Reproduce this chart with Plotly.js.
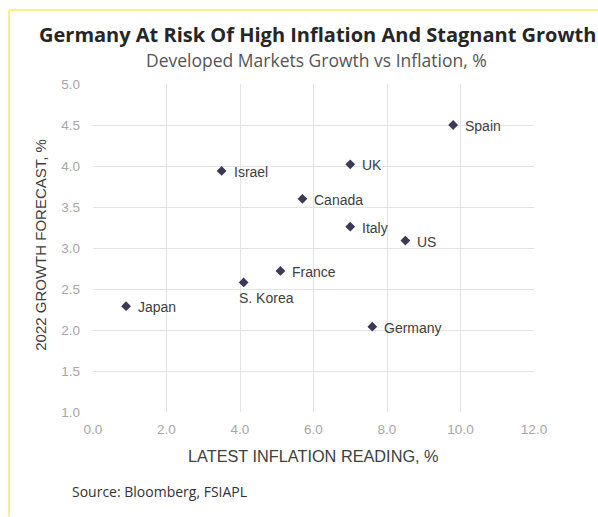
<!DOCTYPE html>
<html>
<head>
<meta charset="utf-8">
<script src="https://cdn.plot.ly/plotly-3.0.1.min.js"></script>
<style>
html,body{margin:0;padding:0;background:#fff;}
#chart{width:598px;height:517px;}
</style>
</head>
<body>
<div id="chart"></div>
<script>
var countries = ["Spain","UK","Israel","Canada","Italy","US","France","S. Korea","Japan","Germany"];
var inflation = [9.8, 7.0, 3.5, 5.7, 7.0, 8.5, 5.1, 4.1, 0.9, 7.6];
var growth    = [4.5, 4.02, 3.94, 3.6, 3.26, 3.09, 2.72, 2.58, 2.29, 2.04];
var xTicks = [0,2,4,6,8,10,12];
var yTicks = [1.0,1.5,2.0,2.5,3.0,3.5,4.0,4.5,5.0];

var arial = "Liberation Sans, Arial, sans-serif";
var calibri = "Open Sans, Lato, sans-serif";
var labelFont = {family:arial, size:14, color:"#404040"};

// plot area in pixels: left 93, right 534, top 84, bottom 412.5
var L = 93, R = 534, T = 84, B = 412.5;
function px(xp){ return (xp - L) / (R - L); }
function py(yp){ return (B - yp) / (B - T); }

var annotations = countries.map(function(c,i){
  var below = (c === "S. Korea");
  return {
    x: inflation[i], y: growth[i], xref:"x", yref:"y",
    text: c, showarrow:false, xanchor:"left", yanchor:"middle",
    xshift: below ? -7 : 10, yshift: below ? -16 : -1,
    font: labelFont
  };
});
annotations.push({
  text:"<b>Germany At Risk Of High Inflation And Stagnant Growth</b>",
  xref:"paper", yref:"paper", x:px(317), y:py(34), xanchor:"center", yanchor:"middle",
  showarrow:false, font:{family:calibri, size:20, color:"#262626"}
});
annotations.push({
  text:"Developed Markets Growth vs Inflation, %",
  xref:"paper", yref:"paper", x:px(316), y:py(60), xanchor:"center", yanchor:"middle",
  showarrow:false, font:{family:calibri, size:17.5, color:"#555555"}
});
annotations.push({
  text:"LATEST INFLATION READING, %",
  xref:"paper", yref:"paper", x:px(313), y:py(457), xanchor:"center", yanchor:"middle",
  showarrow:false, font:{family:arial, size:16.3, color:"#404040"}
});
annotations.push({
  text:"2022 GROWTH FORECAST, %", textangle:-90,
  xref:"paper", yref:"paper", x:px(41), y:py(245), xanchor:"center", yanchor:"middle",
  showarrow:false, font:{family:arial, size:15, color:"#404040"}
});
annotations.push({
  text:"Source: Bloomberg, FSIAPL",
  xref:"paper", yref:"paper", x:px(70), y:py(492), xanchor:"left", yanchor:"middle",
  showarrow:false, font:{family:calibri, size:14, color:"#333333"}
});

var trace = {
  x: inflation, y: growth, type:"scatter", mode:"markers",
  marker:{symbol:"diamond", size:7.5, color:"#3a3a58"},
  hoverinfo:"text", text: countries
};

var layout = {
  width:598, height:517,
  margin:{l:L, r:598-R, t:T, b:517-B},
  paper_bgcolor:"#ffffff", plot_bgcolor:"#ffffff",
  showlegend:false,
  xaxis:{
    range:[0,12], tickvals:xTicks, ticktext:xTicks.map(function(v){return v.toFixed(1);}),
    showgrid:true, gridcolor:"#e3e3e3", gridwidth:1, zeroline:false, showline:false, ticks:"",
    tickfont:{family:arial, size:13.5, color:"#a6a6a6"}, ticklabelstandoff:7
  },
  yaxis:{
    range:[1,5], tickvals:yTicks, ticktext:yTicks.map(function(v){return v.toFixed(1);}),
    showgrid:true, gridcolor:"#e3e3e3", gridwidth:1, zeroline:false, showline:false,
    ticks:"", tickfont:{family:arial, size:13.5, color:"#a6a6a6"},
    ticklabelstandoff:12
  },
  annotations: annotations,
  shapes:[
    {type:"line", xref:"paper", yref:"paper", x0:px(9), x1:px(598), y0:py(10), y1:py(10),
     line:{color:"#f4f08a", width:2}},
    {type:"line", xref:"paper", yref:"paper", x0:px(9), x1:px(9), y0:py(10), y1:py(517),
     line:{color:"#f4f08a", width:2}}
  ]
};

Plotly.newPlot("chart", [trace], layout, {staticPlot:true, displayModeBar:false});
</script>
</body>
</html>
